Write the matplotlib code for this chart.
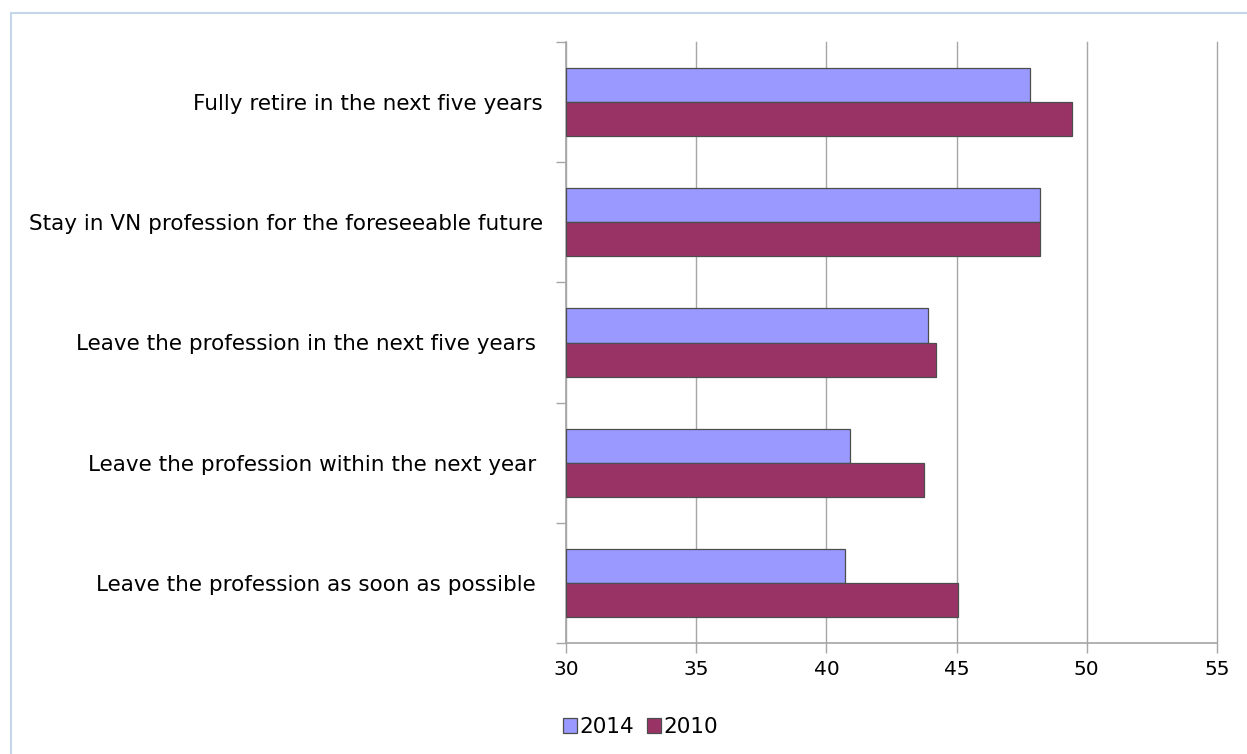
import numpy as np
import matplotlib.pyplot as plt
from matplotlib.patches import Patch, Rectangle

# categories top to bottom
categories = [
    "Fully retire in the next five years",
    "Stay in VN profession for the foreseeable future",
    "Leave the profession in the next five years ",
    "Leave the profession within the next year ",
    "Leave the profession as soon as possible ",
]
values_2014 = [47.8, 48.2, 43.9, 40.9, 40.7]
values_2010 = [49.45, 48.2, 44.2, 43.75, 45.05]
series_names = ["2014", "2010"]
x_ticks = [30, 35, 40, 45, 50, 55]

col_2014 = "#9999ff"
col_2010 = "#993366"
edge = "#4d4d4d"
grid_col = "#a6a6a6"

plt.rcParams['font.family'] = ['DejaVu Sans']

fig = plt.figure(figsize=(12.47, 7.54), dpi=100)
ax = fig.add_axes([566 / 1247, 111 / 754, 651 / 1247, 601 / 754])

# light blue frame round the chart area
fig.patches.append(Rectangle((11 / 1247, -0.05), 1.1, (754 - 13) / 754 + 0.05,
                             transform=fig.transFigure, fill=False,
                             edgecolor="#c6d6ea", linewidth=1.5))

y = np.arange(len(categories))
h = 0.283
ax.barh(y - h / 2, np.array(values_2014) - 30, height=h, left=30,
        color=col_2014, edgecolor=edge, linewidth=0.9, zorder=3)
ax.barh(y + h / 2, np.array(values_2010) - 30, height=h, left=30,
        color=col_2010, edgecolor=edge, linewidth=0.9, zorder=3)

ax.set_xlim(30, 55)
ax.set_ylim(len(categories) - 0.5, -0.5)
ax.set_xticks(x_ticks)
ax.set_xticklabels([str(t) for t in x_ticks], fontsize=14.5)
ax.set_yticks(y)
ax.set_yticklabels(categories, fontsize=15.5)
ax.tick_params(axis='y', length=0, pad=16.5)
ax.set_yticks(np.arange(len(categories) + 1) - 0.5, minor=True)
ax.tick_params(axis='y', which='minor', length=7, color=grid_col, width=1)
ax.tick_params(axis='x', length=7, color=grid_col, width=1, pad=5)

ax.grid(axis='x', color=grid_col, linewidth=1, zorder=0)
for gl in ax.get_xgridlines():
    gl.set_clip_on(False)
for s in ['top', 'right']:
    ax.spines[s].set_visible(False)
for s in ['left', 'bottom']:
    ax.spines[s].set_color(grid_col)
    ax.spines[s].set_linewidth(1.2)

handles = [Patch(facecolor=col_2014, edgecolor=edge, linewidth=0.9),
           Patch(facecolor=col_2010, edgecolor=edge, linewidth=0.9)]
fig.legend(handles, series_names, loc='center left',
           bbox_to_anchor=(554 / 1247, 27 / 754), ncol=2, frameon=False,
           fontsize=15.5, handlelength=0.65, handleheight=0.65,
           handletextpad=0.12, columnspacing=0.6, borderaxespad=0)

fig.savefig("out.png", dpi=100)
